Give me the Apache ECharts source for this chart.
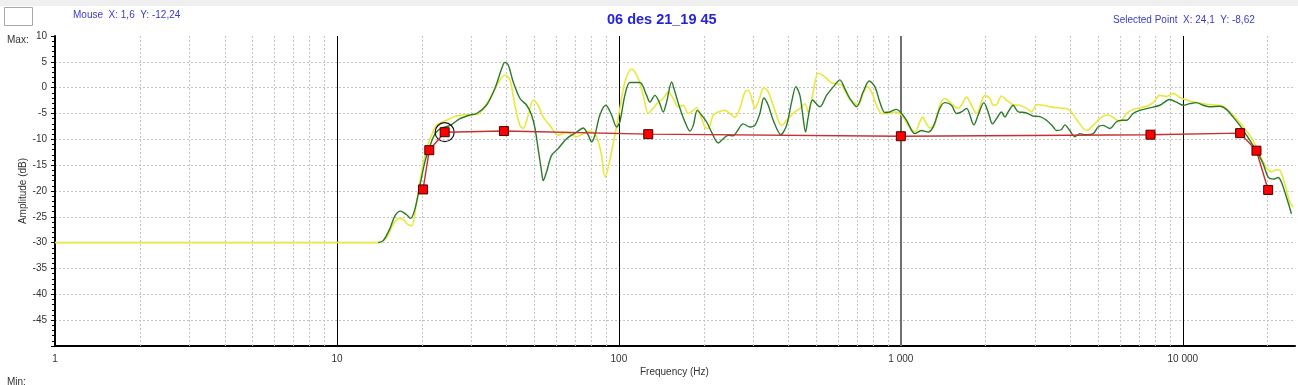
<!DOCTYPE html>
<html>
<head>
<meta charset="utf-8">
<script src="https://cdn.jsdelivr.net/npm/echarts@6/dist/echarts.min.js"></script>
<style>
html,body{margin:0;padding:0;background:#fff;}
#chart{width:1298px;height:385px;}
</style>
</head>
<body>
<div id="chart"></div>
<script>
// ---- data ----
const yTickValues = [10, 5, 0, -5, -10, -15, -20, -25, -30, -35, -40, -45];
const xDecades = [1, 10, 100, 1000, 10000];

const greenFreq = [14, 14.6, 15.4, 16.06, 16.8, 17.66, 18.25, 18.9, 19.7, 20.5, 21.4, 22.3, 23.5, 25.2, 27.3, 29.6, 31.3, 33.9, 36.3, 38.4, 39.4, 40.5, 42.2, 44.6, 47.1, 49.0, 50.4, 51.7, 53.2, 53.9, 55.4, 57.7, 60.9, 65.2, 70.8, 74.7, 77.9, 80.0, 82.2, 85.6, 89.9, 94.2, 98.1, 100.8, 105, 109.4, 118.7, 125.4, 128.8, 134.2, 139, 143.6, 147.6, 153.8, 158, 164.6, 171.4, 178.6, 183.5, 189.6, 196.4, 204.6, 213.1, 225, 234.4, 244.2, 254.4, 261.4, 276, 291.4, 303.6, 316.2, 326.7, 338.5, 352.6, 375.4, 393.3, 409.7, 424.4, 438.4, 448.1, 459.2, 469.3, 486.3, 516.2, 545, 583, 607.6, 633, 659.4, 696.4, 735.3, 772.3, 808.8, 842.5, 877.6, 914.1, 965.2, 1005.5, 1047, 1121, 1184, 1250, 1302, 1375, 1432, 1512, 1576, 1641, 1710, 1815, 1880, 1970, 2040, 2114, 2184, 2275, 2338, 2402, 2502, 2607, 2752, 2867, 2946, 3111, 3286, 3470, 3565, 3713, 3815, 3975, 4140, 4313, 4493, 4808, 5009, 5218, 5510, 5819, 6062, 6315, 6667, 7039, 7638, 8287, 8992, 9497, 10030, 10588, 11180, 11808, 12465, 13530, 14280, 15085, 15925, 16820, 17760, 18500, 19270, 20080, 20910, 21780, 22380, 23320, 24290];
const greenDb = [-30, -29.6, -27.3, -24.8, -23.9, -24.6, -25.3, -23.5, -18.9, -14.4, -11.2, -8.9, -7.8, -7.3, -6.0, -5.3, -5.0, -3.4, -0.2, 3.7, 4.9, 4.4, 1.1, -2.1, -3.4, -5.3, -7.9, -11.8, -16.3, -18.0, -16.3, -13.1, -11.8, -9.9, -8.6, -7.8, -9.2, -10.5, -9.2, -5.3, -3.4, -5.3, -7.6, -6.6, -1.5, 1.0, 1.0, -1.5, -2.8, -1.5, -2.8, -4.7, -2.8, 1.1, -0.8, -4.0, -6.6, -8.4, -7.3, -4.4, -5.3, -6.6, -8.6, -10.7, -9.9, -9.2, -9.3, -8.6, -7.0, -7.6, -7.3, -5.0, -2.0, -3.4, -6.3, -9.1, -7.3, -2.8, 0.2, -1.5, -5.0, -8.6, -5.7, -2.4, -3.7, -1.5, 0.5, 1.5, -0.2, -2.1, -3.7, -0.8, 1.3, 0.2, -2.8, -4.8, -4.7, -4.2, -5.0, -6.3, -8.9, -8.3, -8.6, -7.6, -4.0, -2.9, -3.4, -5.0, -4.7, -4.0, -7.2, -5.3, -2.9, -4.7, -7.0, -6.0, -4.7, -5.7, -4.7, -3.4, -4.7, -4.8, -5.2, -5.5, -5.6, -6.3, -7.6, -8.3, -8.1, -7.2, -8.3, -9.5, -8.9, -9.1, -8.9, -7.6, -7.3, -7.9, -6.6, -6.3, -6.3, -5.0, -4.4, -3.9, -3.4, -2.3, -2.8, -3.4, -3.1, -2.9, -3.4, -3.7, -3.6, -4.2, -5.7, -7.3, -9.2, -11.2, -12.8, -14.7, -17.3, -17.7, -17.4, -18.3, -21.2, -24.4];

const yellowFreq = [1, 14, 15.0, 15.84, 16.64, 17.19, 17.76, 18.4, 19.16, 19.96, 20.8, 21.66, 22.57, 24.49, 26.58, 28.84, 31.28, 33.48, 35.84, 37.84, 39.4, 41.07, 42.78, 44.56, 45.8, 47.7, 49.7, 51.7, 53.9, 56.9, 60.9, 65.2, 70.8, 74.7, 78.9, 83.3, 86.8, 89.2, 96.5, 100.8, 105, 110.9, 117.1, 122, 127.1, 132.3, 137.9, 143.6, 149.6, 155.8, 162.3, 169.1, 176.1, 183.5, 188.5, 193.7, 201.8, 207.4, 216, 225, 237.6, 247.5, 257.8, 268.6, 279.8, 287.5, 299.5, 303.6, 316.2, 326.7, 338.5, 352.6, 377.5, 398.6, 420.9, 438.4, 456.6, 469.3, 488.9, 509.2, 537.8, 567.8, 591.3, 616, 650.5, 677.6, 706, 735.3, 759.7, 787.1, 820, 854.2, 902, 952.1, 1005.5, 1062, 1121, 1168, 1194, 1233, 1267, 1320, 1375, 1432, 1512, 1597, 1641, 1710, 1781, 1855, 1986, 2069, 2126, 2184, 2275, 2370, 2502, 2642, 2790, 2906, 3028, 3197, 3377, 3565, 3815, 3975, 4254, 4554, 4808, 5148, 5436, 5740, 5979, 6315, 6667, 7039, 7434, 7848, 8287, 8755, 9239, 9758, 10307, 11180, 12134, 13170, 13900, 14680, 15502, 16366, 17280, 18250, 19010, 19800, 20630, 21490, 22080, 23000, 23960, 24630];
const yellowDb = [-30, -30, -29.0, -26.4, -25.3, -25.5, -26.4, -26.7, -22.2, -16.3, -11.8, -9.2, -7.3, -6.3, -5.5, -5.2, -5.2, -3.7, -0.8, 1.5, 2.4, 1.5, -3.4, -7.3, -7.9, -5.3, -2.4, -3.4, -5.7, -7.3, -9.2, -8.7, -9.5, -8.9, -8.4, -9.5, -13.1, -17.3, -9.5, -4.0, 1.1, 3.6, 1.8, -1.5, -5.0, -4.0, -2.8, -2.1, -0.8, -2.1, -3.7, -3.4, -5.0, -4.4, -3.9, -5.0, -7.6, -7.9, -5.3, -4.7, -4.4, -5.0, -5.7, -4.0, -0.8, -0.5, -3.1, -4.0, -1.8, 0.0, -0.8, -3.4, -7.3, -6.0, -4.7, -4.0, -3.1, -4.8, -0.8, 2.8, 2.1, 0.9, 0.8, 0.5, -1.8, -2.8, -3.4, -1.1, 0.2, -0.8, -3.4, -5.0, -5.0, -4.7, -5.3, -7.3, -8.6, -6.6, -5.7, -7.0, -7.8, -7.0, -3.4, -2.1, -3.1, -4.0, -3.4, -1.8, -3.4, -5.0, -1.5, -2.1, -3.4, -3.3, -1.6, -2.4, -3.3, -3.4, -4.0, -4.7, -3.3, -3.4, -3.7, -3.9, -4.0, -4.4, -6.6, -8.3, -7.3, -5.7, -5.3, -6.0, -6.6, -5.0, -4.2, -3.9, -3.6, -2.9, -1.5, -1.7, -1.1, -1.9, -2.4, -2.9, -3.2, -3.4, -3.6, -4.7, -6.0, -7.6, -9.2, -11.5, -13.7, -15.5, -16.3, -15.9, -16.0, -18.6, -22.2, -23.1];

const targetFreq = [20.2, 21.26, 24.1, 39.1, 127.1, 1000, 7680, 15970, 18250, 20080];
const targetDb = [-19.7, -12.1, -8.62, -8.4, -9.0, -9.4, -9.1, -8.8, -12.2, -19.8];

const selectedPoint = [24.1, -8.62];
const mousePoint = [1.6, -12.24];
const titleText = '06 des 21_19 45';

// ---- build ----
const zip = (a, b) => a.map((v, i) => [v, b[i]]);
const xMax = 25000;
const minorX = [];
xDecades.forEach(d => { for (let m = 2; m <= 9; m++) { if (m * d <= xMax) minorX.push(m * d); } });
const majorX = xDecades.slice(1);
const fmtNum = v => String(v).replace('.', ',');
const fmtThousands = v => String(v).replace(/\B(?=(\d{3})+(?!\d))/g, ' ');

const chart = echarts.init(document.getElementById('chart'), null, {renderer: 'canvas'});
const blue = '#3a3acc';
const smallFont = '10px "Liberation Sans", Arial, sans-serif';
chart.setOption({
  animation: false,
  backgroundColor: '#ffffff',
  textStyle: {fontFamily: 'Liberation Sans, Arial, sans-serif'},
  grid: {left: 55, right: 1, top: 36, bottom: 39, containLabel: false},
  xAxis: {
    type: 'log', logBase: 10, min: 1, max: xMax,
    axisLine: {onZero: false, lineStyle: {color: '#000', width: 2}},
    axisTick: {show: false},
    splitLine: {show: false},
    axisLabel: {
      fontSize: 10, color: '#333', margin: 8,
      formatter: v => {
        const l = Math.log10(v);
        return Math.abs(l - Math.round(l)) < 1e-6 ? fmtThousands(Math.round(v)) : '';
      }
    }
  },
  yAxis: {
    type: 'value', min: -50, max: 10, interval: 5,
    name: 'Amplitude (dB)', nameLocation: 'middle', nameGap: 27, nameMoveOverlap: false,
    nameTextStyle: {fontSize: 10, color: '#333'},
    axisLine: {show: true, onZero: false, lineStyle: {color: '#000', width: 2}},
    axisTick: {show: true, length: 4, lineStyle: {color: '#000'}},
    minorTick: {show: true, splitNumber: 5, length: 3, lineStyle: {color: '#000'}},
    splitLine: {show: true, showMinLine: false, showMaxLine: false, lineStyle: {color: '#c4c4c4', type: [2, 2]}},
    axisLabel: {
      fontSize: 10, color: '#333', margin: 8,
      formatter: v => (yTickValues.indexOf(v) >= 0 ? String(v) : '')
    }
  },
  series: [
    {
      name: 'gridMinor', type: 'line', data: [[1, -30]], symbol: 'none',
      lineStyle: {opacity: 0}, silent: true, z: 1,
      markLine: {
        silent: true, symbol: ['none', 'none'], label: {show: false}, z: 1,
        lineStyle: {color: '#c4c4c4', type: [2, 2], width: 1},
        data: minorX.map(v => ({xAxis: v}))
      }
    },
    {
      name: 'gridMajor', type: 'line', data: [[1, -30]], symbol: 'none',
      lineStyle: {opacity: 0}, silent: true, z: 1,
      markLine: {
        silent: true, symbol: ['none', 'none'], label: {show: false}, z: 1,
        data: majorX.map(v => ({xAxis: v, lineStyle: {color: v === 1000 ? '#707070' : '#000', width: v === 1000 ? 2 : 1, type: 'solid'}}))
      }
    },
    {
      name: 'yellow', type: 'line', data: zip(yellowFreq, yellowDb),
      symbol: 'none', smooth: 0.3, z: 3,
      lineStyle: {color: '#e8e83c', width: 1.6}
    },
    {
      name: 'green', type: 'line', data: zip(greenFreq, greenDb),
      symbol: 'none', smooth: 0.3, z: 4,
      lineStyle: {color: '#2a7a2a', width: 1.4}
    },
    {
      name: 'selected', type: 'scatter', data: [selectedPoint],
      symbol: 'circle', symbolSize: 19, z: 5,
      itemStyle: {color: 'rgba(0,0,0,0)', borderColor: '#111', borderWidth: 1.2, opacity: 1}
    },
    {
      name: 'target', type: 'line', data: zip(targetFreq, targetDb),
      symbol: 'rect', symbolSize: 9, showAllSymbol: true, z: 6,
      lineStyle: {color: '#c83030', width: 1.4},
      itemStyle: {color: '#ff0000', borderColor: '#4a0000', borderWidth: 1}
    }
  ],
  graphic: [
    {type: 'rect', shape: {x: 0, y: 0, width: 1298, height: 6}, style: {fill: '#f0f0f0'}, silent: true},
    {type: 'rect', shape: {x: 4.5, y: 7.5, width: 28, height: 18}, style: {fill: '#fff', stroke: '#a8a8a8', lineWidth: 1}, silent: true},
    {type: 'text', left: 73, top: 10, style: {text: 'Mouse  X: ' + fmtNum(mousePoint[0]) + '  Y: ' + fmtNum(mousePoint[1]), fill: blue, font: smallFont}},
    {type: 'text', left: 607, top: 12, style: {text: titleText, fill: '#2424d8', font: 'bold 14.5px "Liberation Sans", Arial, sans-serif'}},
    {type: 'text', left: 1113, top: 15, style: {text: 'Selected Point  X: ' + fmtNum(selectedPoint[0]) + '  Y: ' + fmtNum(selectedPoint[1]), fill: blue, font: smallFont}},
    {type: 'text', left: 7, top: 35, style: {text: 'Max:', fill: '#333', font: smallFont}},
    {type: 'text', left: 7, top: 377, style: {text: 'Min:', fill: '#333', font: smallFont}},
    {type: 'text', left: 640, top: 367, style: {text: 'Frequency (Hz)', fill: '#333', font: smallFont}}
  ]
});
</script>
</body>
</html>
